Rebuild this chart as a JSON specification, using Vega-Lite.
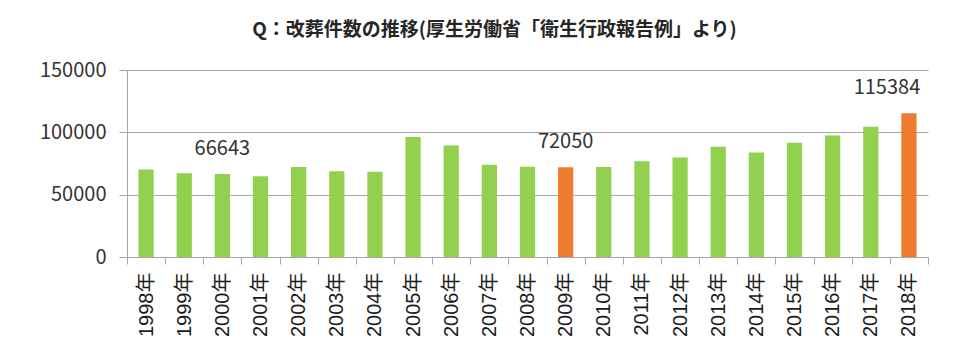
{
  "$schema": "https://vega.github.io/schema/vega-lite/v6.json",
  "autosize": {"type": "none"},
  "width": 801,
  "height": 187,
  "padding": {"left": 127, "top": 70, "right": 32, "bottom": 96},
  "background": "white",
  "title": {
    "text": "Q：改葬件数の推移(厚生労働省「衛生行政報告例」より)",
    "font": "Noto Sans CJK JP",
    "fontSize": 19,
    "fontWeight": "bold",
    "color": "#262626",
    "anchor": "middle",
    "dx": -33,
    "offset": 20
  },
  "config": {
    "view": {"stroke": null},
    "font": "Noto Sans CJK JP"
  },
  "data": {
    "values": [
      {"year": "1998年", "count": 70200, "group": "normal"},
      {"year": "1999年", "count": 67200, "group": "normal"},
      {"year": "2000年", "count": 66643, "group": "normal"},
      {"year": "2001年", "count": 64800, "group": "normal"},
      {"year": "2002年", "count": 72100, "group": "normal"},
      {"year": "2003年", "count": 68800, "group": "normal"},
      {"year": "2004年", "count": 68300, "group": "normal"},
      {"year": "2005年", "count": 96200, "group": "normal"},
      {"year": "2006年", "count": 89500, "group": "normal"},
      {"year": "2007年", "count": 73900, "group": "normal"},
      {"year": "2008年", "count": 72300, "group": "normal"},
      {"year": "2009年", "count": 72050, "group": "highlight"},
      {"year": "2010年", "count": 72200, "group": "normal"},
      {"year": "2011年", "count": 76900, "group": "normal"},
      {"year": "2012年", "count": 79900, "group": "normal"},
      {"year": "2013年", "count": 88400, "group": "normal"},
      {"year": "2014年", "count": 83900, "group": "normal"},
      {"year": "2015年", "count": 91600, "group": "normal"},
      {"year": "2016年", "count": 97500, "group": "normal"},
      {"year": "2017年", "count": 104500, "group": "normal"},
      {"year": "2018年", "count": 115384, "group": "highlight"}
    ]
  },
  "encoding": {
    "x": {
      "field": "year",
      "type": "nominal",
      "sort": null,
      "scale": {"paddingInner": 0, "paddingOuter": 0},
      "axis": {
        "title": null,
        "labelAngle": -90,
        "labelAlign": "right",
        "labelBaseline": "middle",
        "labelFont": "Liberation Sans, Noto Sans CJK JP",
        "labelFontSize": 20,
        "labelColor": "#1a1a1a",
        "labelPadding": 8,
        "tickBand": "extent",
        "tickSize": 7,
        "tickColor": "#a6a6a6",
        "domainColor": "#a6a6a6",
        "grid": false
      }
    },
    "y": {
      "field": "count",
      "type": "quantitative",
      "scale": {"domain": [0, 150000], "nice": false},
      "axis": {
        "title": null,
        "values": [0, 50000, 100000, 150000],
        "format": "d",
        "labelFontSize": 20,
        "labelColor": "#333333",
        "labelPadding": 13,
        "tickSize": 8,
        "tickColor": "#a6a6a6",
        "domainColor": "#a6a6a6",
        "grid": true,
        "gridColor": "#a6a6a6"
      }
    }
  },
  "layer": [
    {
      "mark": {"type": "bar", "width": {"band": 0.4}},
      "encoding": {
        "color": {
          "field": "group",
          "type": "nominal",
          "scale": {"domain": ["normal", "highlight"], "range": ["#92D050", "#ED7D31"]},
          "legend": null
        }
      }
    },
    {
      "transform": [{"filter": "datum.year === '2000年' || datum.year === '2009年'"}],
      "mark": {"type": "text", "baseline": "alphabetic", "dy": -19, "fontSize": 20, "color": "#333333"},
      "encoding": {
        "text": {"field": "count", "type": "quantitative", "format": "d"}
      }
    },
    {
      "transform": [{"filter": "datum.year === '2018年'"}],
      "mark": {"type": "text", "baseline": "alphabetic", "dy": -19, "dx": -22, "fontSize": 20, "color": "#333333"},
      "encoding": {
        "text": {"field": "count", "type": "quantitative", "format": "d"}
      }
    }
  ]
}
